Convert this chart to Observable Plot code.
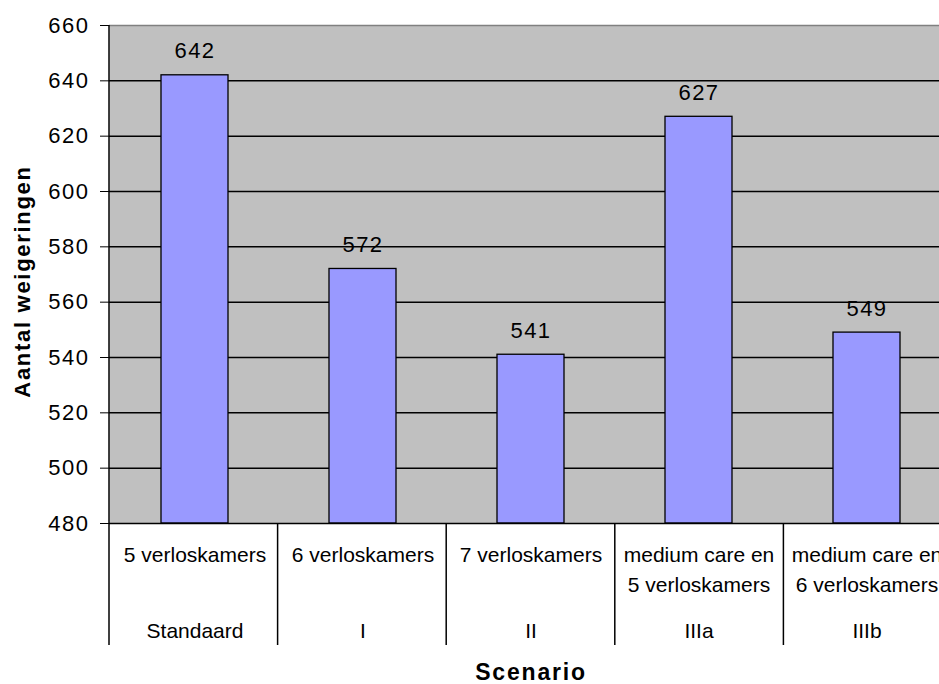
<!DOCTYPE html>
<html>
<head>
<meta charset="utf-8">
<script src="https://cdn.jsdelivr.net/npm/d3@7"></script>
<script src="https://cdn.jsdelivr.net/npm/@observablehq/plot@0.6"></script>
<style>
  html, body { margin: 0; padding: 0; background: #ffffff; overflow: hidden; width: 939px; height: 684px; }
  #chart { width: 939px; height: 684px; overflow: hidden; }
  #chart svg { display: block; max-width: none !important; }
</style>
</head>
<body>
<div id="chart"></div>
<script>
// ---- data ----
const codes = ["Standaard", "I", "II", "IIIa", "IIIb"];
const line1 = ["5 verloskamers", "6 verloskamers", "7 verloskamers", "medium care en", "medium care en"];
const line2 = ["", "", "", "5 verloskamers", "6 verloskamers"];
const values = [642, 572, 541, 627, 549];
const yTicks = [480, 500, 520, 540, 560, 580, 600, 620, 640, 660];
const yTitle = "Aantal weigeringen";
const xTitle = "Scenario";

const rows = codes.map((c, i) => ({code: c, l1: line1[i], l2: line2[i], value: values[i]}));
const yMin = d3.min(yTicks), yMax = d3.max(yTicks);
const font = "Liberation Sans, Arial, sans-serif";

// category axis (separators) drawn from the plot dimensions
function categoryAxis(index, scales, vals, dims) {
  const left = dims.marginLeft;
  const right = dims.width - dims.marginRight;
  const bottom = dims.height - dims.marginBottom;
  const n = codes.length;
  const step = (right - left) / n;
  const g = d3.create("svg:g");
  g.append("line").attr("x1", left).attr("x2", left)
    .attr("y1", dims.marginTop).attr("y2", bottom)
    .attr("stroke", "#000").attr("stroke-width", 1.5);
  for (let i = 0; i <= n; i++) {
    const x = left + i * step;
    g.append("line").attr("x1", x).attr("x2", x)
      .attr("y1", bottom).attr("y2", bottom + 122)
      .attr("stroke", "#000").attr("stroke-width", 1.5);
  }
  return g.node();
}

const chart = Plot.plot({
  width: 960,
  height: 684,
  marginLeft: 109,
  marginRight: 8,
  marginTop: 25,
  marginBottom: 161,
  style: {fontFamily: font, fontSize: "21px", color: "#000", background: "transparent", maxWidth: "none"},
  x: {domain: codes, paddingInner: 0.6, paddingOuter: 0.3, axis: null},
  y: {domain: [yMin, yMax], axis: null},
  marks: [
    Plot.frame({fill: "#c0c0c0", stroke: null}),
    Plot.ruleY(yTicks.filter(t => t !== yMax && t !== yMin), {stroke: "#000", strokeWidth: 1.5}),
    Plot.ruleY([yMax], {stroke: "#808080", strokeWidth: 1.5}),
    Plot.rect(rows, {x: "code", y1: yMin, y2: "value", fill: "#9999ff", stroke: "#000", strokeWidth: 1.3}),
    Plot.text(rows, {x: "code", y: "value", text: d => String(d.value), dy: -24, lineAnchor: "middle", fontSize: 22, fill: "#000"}),
    Plot.ruleY([yMin], {stroke: "#000", strokeWidth: 1.5}),
    Plot.axisY({ticks: yTicks, tickSize: 9, tickPadding: 11, label: null, fontSize: 22, tickFormat: d => String(d), stroke: "#000"}),
    categoryAxis,
    Plot.text(rows, {x: "code", frameAnchor: "bottom", text: "l1", dy: 32, lineAnchor: "middle", fontSize: 21}),
    Plot.text(rows, {x: "code", frameAnchor: "bottom", text: "l2", dy: 62, lineAnchor: "middle", fontSize: 21}),
    Plot.text(rows, {x: "code", frameAnchor: "bottom", text: "code", dy: 108, lineAnchor: "middle", fontSize: 21}),
    Plot.text([xTitle], {frameAnchor: "bottom", text: d => d, dy: 149, lineAnchor: "middle", fontSize: 23, fontWeight: "bold"}),
    Plot.text([yTitle], {frameAnchor: "left", text: d => d, dx: -87, dy: 7, rotate: -90, textAnchor: "middle", lineAnchor: "middle", fontSize: 22, fontWeight: "bold"})
  ]
});
chart.style.maxWidth = "none";
// letter spacing to match the wide rendering of the original
d3.select(chart).selectAll("text").each(function() {
  const t = this.textContent;
  if (/^\d+$/.test(t)) this.setAttribute("letter-spacing", "1.5");
  else if (t === yTitle) this.setAttribute("letter-spacing", "1.7");
  else if (t === xTitle) this.setAttribute("letter-spacing", "1.8");
});
document.getElementById("chart").appendChild(chart);
</script>
</body>
</html>
